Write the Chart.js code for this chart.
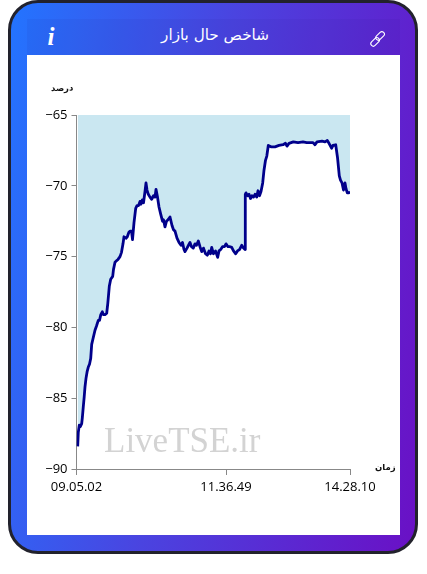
<!DOCTYPE html>
<html>
<head>
<meta charset="utf-8">
<script src="https://cdn.jsdelivr.net/npm/chart.js@4"></script>
<style>
html, body { margin: 0; padding: 0; background: #fff; overflow: hidden; }
#card {
    position: absolute; left: 8px; top: 0; width: 404px; height: 548px;
    border: 3px solid #22222c; border-radius: 30px;
    background: linear-gradient(100deg, #2374ff 0%, #4a44e0 45%, #6a10c5 100%);
}
#head {
    position: absolute; left: 27px; top: 19px; width: 373px; height: 36px;
    background: rgba(30, 20, 120, 0.06);
}
#panel { position: absolute; left: 27px; top: 55px; width: 373px; height: 480px; background: #fff; }
#panel canvas { position: absolute; left: 0; top: 0; }
#title {
    position: absolute; left: 27px; top: 26px; width: 376px; text-align: center;
    font: 15.2px "DejaVu Sans", sans-serif; color: #fff; direction: rtl;
}
#info {
    position: absolute; left: 46px; top: 23px; width: 10px; text-align: center;
    font: italic bold 25px "Liberation Serif", serif; color: #fff;
}
#link { position: absolute; left: 369px; top: 30px; }
.axisname {
    position: absolute; font: bold 8.5px "DejaVu Sans", sans-serif; color: #111; direction: rtl;
}
#mark {
    position: absolute; left: 104px; top: 421px;
    font: 35px "Liberation Serif", serif; color: #d3d3d3;
}
</style>
</head>
<body>
<div id="card"></div>
<div id="head"></div>
<div id="title">شاخص حال بازار</div>
<div id="info">i</div>
<svg id="link" width="18" height="18" viewBox="0 0 18 18" fill="none" stroke="#fff" stroke-width="1.1">
    <rect x="8.6" y="0.9" width="5" height="10" rx="2.5" transform="rotate(45 11.1 5.9)"/>
    <rect x="3.6" y="6.9" width="5" height="10" rx="2.5" transform="rotate(45 6.1 11.9)"/>
</svg>
<div id="panel"><canvas id="marketChart" width="373" height="480"></canvas></div>
<div class="axisname" style="left:51px;top:83px">درصد</div>
<div class="axisname" style="left:375px;top:462px">زمان</div>
<div id="mark">LiveTSE.ir</div>

<script>
// position along the time axis (0 = first trade, 273.5 = last)
var samples = [
    1.2, 1.8, 2.8, 3.8, 5.2, 5.8, 6.8, 7.7, 8.5, 9.5,
    10.7, 11.8, 13, 14.2, 15.2, 16.5, 18.5, 20, 21.8, 23,
    24.3, 25.8, 26.8, 28.5, 30.2, 31.3, 32.8, 34.2, 36.2, 37,
    38.5, 40, 41.5, 43.5, 45, 46.5, 47.5, 49.5, 50.8, 52.3,
    53.5, 55, 56, 57.5, 59.2, 60.5, 62, 63.5, 64.5, 65.8,
    67, 68.5, 69.5, 70.5, 71.8, 73.5, 75.2, 77, 78.5, 79.5,
    81, 82.5, 84.2, 86, 87, 88.5, 90, 91.5, 93.5, 95.5,
    97, 98.5, 100.5, 102.5, 104.5, 106, 107.5, 108.5, 110.5, 112,
    113.5, 115, 116.8, 118.5, 120, 121.8, 123.5, 125.2, 127, 129,
    130.8, 132.5, 134, 135.2, 137, 139, 141.2, 142.5, 144.2, 146,
    148, 149.5, 151.5, 153.5, 155.2, 157, 159.2, 161, 163, 165.2,
    167, 168.5, 168.8, 169.5, 171, 172.5, 174, 175.5, 177, 178.5,
    180.2, 181.5, 183, 184.5, 186.2, 187.5, 189, 190.3, 191.8, 194.5,
    198.5, 202.5, 206.5, 209, 210.5, 212.5, 216.8, 221.5, 226.5, 230.2,
    236.5, 238.5, 240.5, 245.5, 248.5, 250.8, 252.5, 255.2, 256.5, 259.2,
    261, 262.8, 264, 265.5, 267, 268.5, 269.5, 270.8, 272.5, 273.5
];
var changes = [
    -88.4, -87.4, -86.9, -87.0, -86.8, -86.4, -85.6, -84.9, -84.2, -83.6,
    -83.1, -82.8, -82.6, -82.2, -81.2, -80.8, -80.2, -79.9, -79.5, -79.5,
    -79.1, -78.9, -79.1, -79.1, -79.0, -78.3, -77.1, -76.6, -76.4, -75.9,
    -75.4, -75.3, -75.2, -75.0, -74.7, -74.1, -73.6, -73.7, -73.6, -73.3,
    -73.2, -73.2, -73.8, -72.6, -71.6, -71.4, -71.4, -71.1, -71.3, -71.0,
    -71.2, -70.4, -69.8, -70.3, -70.6, -70.8, -70.95, -70.7, -70.8, -70.25,
    -70.8, -71.5, -72.0, -72.5, -72.4, -72.9, -72.5, -72.4, -72.2, -72.8,
    -73.1, -73.2, -73.7, -74.0, -74.2, -74.0, -74.5, -74.65, -74.4, -74.2,
    -74.0, -74.3, -74.4, -74.1, -74.2, -73.9, -74.3, -74.65, -74.4, -74.8,
    -74.9, -74.6, -74.8, -74.35, -74.8, -74.6, -75.05, -74.6, -74.5, -74.3,
    -74.3, -74.1, -74.3, -74.3, -74.35, -74.6, -74.8, -74.6, -74.5, -74.2,
    -74.4, -74.5, -70.6, -70.5, -70.7, -70.6, -70.9, -70.7, -70.8, -70.6,
    -70.8, -70.35, -70.7, -70.4, -69.8, -68.9, -68.2, -67.9, -67.15, -67.25,
    -67.25, -67.15, -67.1, -67.0, -67.2, -67.0, -66.9, -66.95, -66.9, -66.95,
    -66.95, -67.1, -66.9, -66.85, -66.9, -66.8, -67.0, -67.35, -67.15, -67.1,
    -68.0, -69.3, -69.6, -69.8, -70.3, -69.8, -70.2, -70.5, -70.5, -70.4
];
var timeTicks = [0, 149.5, 273.5];
var timeLabels = ['09.05.02', '11.36.49', '14.28.10'];
var valueTicks = [-65, -70, -75, -80, -85, -90];

var ctx = document.getElementById("marketChart").getContext('2d');
var points = samples.map(function (s, i) {
    return { x: s, y: changes[i] };
});
var tickFont = { family: '"Open Sans"', size: 13 };

var marketChart = new Chart(ctx, {
    type: 'line',
    data: {
        datasets: [{
            data: points,
            borderColor: '#00008b',
            borderWidth: 2.8,
            borderJoinStyle: 'round',
            backgroundColor: '#cae7f1',
            fill: 'end',
            pointRadius: 0,
            tension: 0
        }]
    },
    options: {
        responsive: false,
        animation: false,
        plugins: { legend: { display: false }, tooltip: { enabled: false } },
        layout: { padding: { top: 60, right: 50, left: 0, bottom: 0 } },
        scales: {
            x: {
                type: 'linear',
                min: 0,
                max: 273.5,
                afterBuildTicks: function (axis) {
                    axis.ticks = timeTicks.map(function (t) { return { value: t }; });
                },
                afterFit: function (axis) { axis.height = 66; },
                grid: { drawOnChartArea: false, color: '#888', tickLength: 6 },
                border: { color: '#888', width: 1 },
                ticks: {
                    color: '#000',
                    font: tickFont,
                    padding: 4,
                    maxRotation: 0,
                    autoSkip: false,
                    callback: function (v) { return timeLabels[timeTicks.indexOf(v)]; }
                }
            },
            y: {
                min: -90,
                max: -65,
                afterBuildTicks: function (axis) {
                    axis.ticks = valueTicks.map(function (t) { return { value: t }; });
                },
                afterFit: function (axis) { axis.width = 49.5; },
                grid: { drawOnChartArea: false, color: '#888', tickLength: 5 },
                border: { color: '#888', width: 1 },
                ticks: {
                    color: '#000',
                    font: tickFont,
                    padding: 4,
                    callback: function (v) { return '\u2212' + Math.abs(v); }
                }
            }
        }
    }
});
</script>
</body>
</html>
